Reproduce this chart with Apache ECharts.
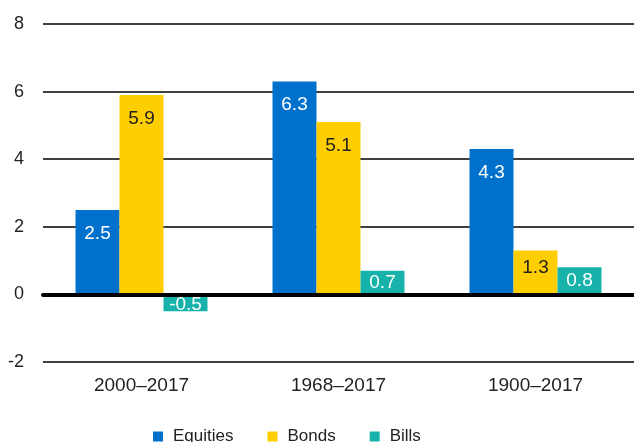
<!DOCTYPE html>
<html>
<head>
<meta charset="utf-8">
<script src="https://cdn.jsdelivr.net/npm/echarts@6/dist/echarts.min.js"></script>
<style>
  html, body { margin: 0; padding: 0; background: #fff; }
  #chart { width: 634px; height: 442px; }
</style>
</head>
<body>
<div id="chart"></div>
<script>
const periods = ['2000\u20132017', '1968\u20132017', '1900\u20132017']
const seriesNames = ['Equities', 'Bonds', 'Bills']
const equities = [2.5, 6.3, 4.3]
const bonds = [5.9, 5.1, 1.3]
const bills = [-0.5, 0.7, 0.8]
const colors = ['#0070cd', '#ffce00', '#17b3aa']
const labelColors = ['#ffffff', '#222222', '#ffffff']

const font = '"Liberation Sans", Arial, sans-serif'

function makeSeries(name, values, i) {
  return {
    name,
    type: 'bar',
    barGap: 0,
    barCategoryGap: '33%',
    itemStyle: { color: colors[i] },
    data: values.map((v) => ({
      value: v,
      label: {
        position: Math.abs(v) < 1 ? 'inside' : 'insideTop',
        distance: Math.abs(v) < 2 ? 8 : 14,
        offset: v < 0 ? [0, 2] : [0, 0],
      },
    })),
    label: {
      show: true,
      color: labelColors[i],
      fontSize: 19,
      fontFamily: font,
      formatter: (p) => p.value.toFixed(1),
    },
  }
}

const chart = echarts.init(document.getElementById('chart'))
chart.setOption({
  animation: false,
  textStyle: { fontFamily: font },
  grid: { left: 43, right: 0, top: 24, bottom: 80, containLabel: false, outerBoundsMode: 'none' },
  legend: {
    top: 423,
    left: 148,
    icon: 'rect',
    itemWidth: 10,
    itemHeight: 10,
    itemGap: 34,
    data: seriesNames,
    textStyle: { fontSize: 17, color: '#222', fontFamily: font, padding: [0, 0, 0, 5] },
  },
  xAxis: {
    type: 'category',
    data: periods,
    axisLine: { onZero: true, lineStyle: { color: '#000', width: 4 } },
    axisTick: { show: false },
    axisLabel: { color: '#222', fontSize: 19, margin: 14, fontFamily: font },
    z: 5,
  },
  yAxis: {
    type: 'value',
    min: -2,
    max: 8,
    interval: 2,
    axisLine: { show: false },
    axisTick: { show: false },
    axisLabel: { color: '#222', fontSize: 18, margin: 19, fontFamily: font },
    splitLine: { lineStyle: { color: '#000', width: 1.5 } },
  },
  series: [
    makeSeries(seriesNames[0], equities, 0),
    makeSeries(seriesNames[1], bonds, 1),
    makeSeries(seriesNames[2], bills, 2),
  ],
})
</script>
</body>
</html>
